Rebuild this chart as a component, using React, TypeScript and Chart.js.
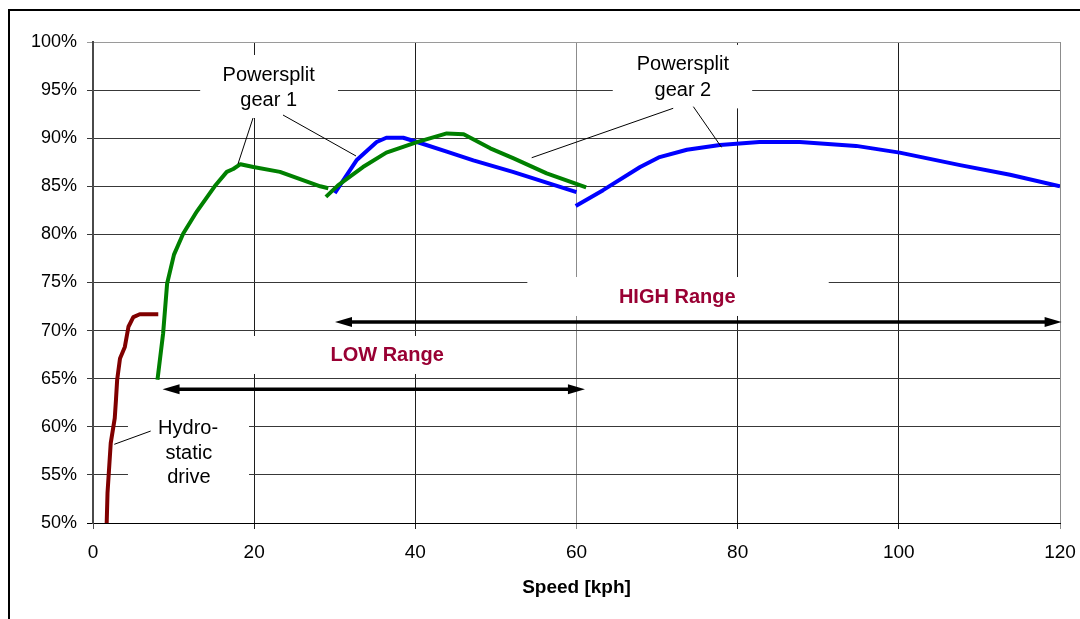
import React, { useEffect, useRef } from 'react';
import { Chart, registerables } from 'chart.js';

Chart.register(...registerables);

// ---- Data (speed in kph, efficiency in %) ----
const hydroSpeed = [1.7, 1.8, 2.2, 2.7, 2.85, 3.0, 3.35, 3.95, 4.4, 5.0, 5.8, 8.1];
const hydroEff = [50, 53.1, 58.3, 60.9, 62.8, 64.9, 67.1, 68.3, 70.4, 71.4, 71.7, 71.7];

const lowGear1Speed = [8.0, 8.7, 9.2, 10.05, 11.2, 12.9, 15.1, 16.6, 17.4, 18.3, 19.9, 23.2, 28.2, 29.2];
const lowGear1Eff = [64.9, 69.7, 74.9, 77.9, 80.1, 82.4, 85.0, 86.5, 86.8, 87.3, 87.0, 86.5, 85.0, 84.8];

const lowGear2Speed = [28.9, 30.4, 33.5, 36.4, 40.2, 43.9, 46.0, 49.3, 52.2, 56.3, 61.2];
const lowGear2Eff = [83.9, 85.1, 87.0, 88.5, 89.6, 90.5, 90.4, 88.95, 87.9, 86.35, 84.9];

const highGear1Speed = [30.0, 32.7, 35.2, 36.4, 38.5, 40.6, 43.9, 47.2, 52.1, 60.0];
const highGear1Eff = [84.3, 87.7, 89.6, 90.05, 90.05, 89.5, 88.6, 87.7, 86.5, 84.4];

const highGear2Speed = [59.9, 63.3, 67.9, 70.2, 73.7, 77.8, 82.7, 87.7, 94.7, 100.1, 107.6, 113.8, 120];
const highGear2Eff = [82.95, 84.6, 87.0, 88.0, 88.8, 89.3, 89.6, 89.6, 89.2, 88.5, 87.2, 86.2, 85.0];

const xMin = 0;
const xMax = 120;
const xStep = 20;
const yMin = 50;
const yMax = 100;
const yStep = 5;

// ---- Annotations (in data units) ----
const labelLines = [
  { text: 'Powersplit', x: 21.8, y: 96.57 },
  { text: 'gear 1', x: 21.8, y: 93.94 },
  { text: 'Powersplit', x: 73.2, y: 97.66 },
  { text: 'gear 2', x: 73.2, y: 94.98 },
  { text: 'Hydro-', x: 11.8, y: 59.79 },
  { text: 'static', x: 11.9, y: 57.2 },
  { text: 'drive', x: 11.9, y: 54.68 },
];

const rangeLabels = [
  { text: 'HIGH Range', x: 72.5, y: 73.41 },
  { text: 'LOW Range', x: 36.5, y: 67.38 },
];

const labelBoxes = [
  { x0: 13.3, x1: 30.4, y0: 92.1, y1: 98.65 },
  { x0: 64.5, x1: 81.8, y0: 93.1, y1: 99.7 },
  { x0: 53.9, x1: 91.3, y0: 71.52, y1: 75.57 },
  { x0: 15.0, x1: 55.0, y0: 65.49, y1: 69.44 },
  { x0: 4.34, x1: 19.36, y0: 51.9, y1: 63.3 },
];

const leaderLines = [
  { x0: 19.86, y0: 92.1, x1: 17.99, y1: 87.32 },
  { x0: 23.58, y0: 92.41, x1: 32.64, y1: 88.15 },
  { x0: 72.0, y0: 93.11, x1: 54.44, y1: 87.97 },
  { x0: 74.5, y0: 93.28, x1: 78.0, y1: 89.05 },
  { x0: 7.16, y0: 59.56, x1: 2.64, y1: 58.18 },
];

const rangeArrows = [
  { from: 30.03, to: 120.2, y: 70.9 },
  { from: 8.63, to: 61.05, y: 63.9 },
];

const FONT = '"Liberation Sans", Arial, Helvetica, sans-serif';

function pts(xs: number[], ys: number[]) {
  return xs.map((x, i) => ({ x, y: ys[i] }));
}

const annotationPlugin = {
  id: 'annotations',
  beforeDatasetsDraw(chart: any) {
    const { ctx, scales } = chart;
    const xs = scales.x;
    const ys = scales.y;
    ctx.save();
    ctx.fillStyle = '#ffffff';
    labelBoxes.forEach((b) => {
      const l = xs.getPixelForValue(b.x0);
      const r = xs.getPixelForValue(b.x1);
      const t = ys.getPixelForValue(b.y1);
      const bt = ys.getPixelForValue(b.y0);
      ctx.fillRect(l, t, r - l, bt - t);
    });
    ctx.restore();
  },
  afterDatasetsDraw(chart: any) {
    const { ctx, scales } = chart;
    const xs = scales.x;
    const ys = scales.y;
    ctx.save();
    // leader lines
    ctx.strokeStyle = '#000';
    ctx.lineWidth = 1;
    leaderLines.forEach((l) => {
      ctx.beginPath();
      ctx.moveTo(xs.getPixelForValue(l.x0), ys.getPixelForValue(l.y0));
      ctx.lineTo(xs.getPixelForValue(l.x1), ys.getPixelForValue(l.y1));
      ctx.stroke();
    });
    // arrows
    rangeArrows.forEach((a) => {
      const x0 = xs.getPixelForValue(a.from);
      const x1 = xs.getPixelForValue(a.to);
      const y = ys.getPixelForValue(a.y);
      const head = 17;
      const hw = 5;
      ctx.strokeStyle = '#000';
      ctx.lineWidth = 3.5;
      ctx.beginPath();
      ctx.moveTo(x0 + head - 2, y);
      ctx.lineTo(x1 - head + 2, y);
      ctx.stroke();
      ctx.fillStyle = '#000';
      ctx.beginPath();
      ctx.moveTo(x0, y);
      ctx.lineTo(x0 + head, y - hw);
      ctx.lineTo(x0 + head, y + hw);
      ctx.closePath();
      ctx.fill();
      ctx.beginPath();
      ctx.moveTo(x1, y);
      ctx.lineTo(x1 - head, y - hw);
      ctx.lineTo(x1 - head, y + hw);
      ctx.closePath();
      ctx.fill();
    });
    // texts
    ctx.textAlign = 'center';
    ctx.textBaseline = 'middle';
    ctx.fillStyle = '#000';
    ctx.font = `20px ${FONT}`;
    labelLines.forEach((t) => {
      ctx.fillText(t.text, xs.getPixelForValue(t.x), ys.getPixelForValue(t.y));
    });
    ctx.fillStyle = '#990033';
    ctx.font = `bold 20px ${FONT}`;
    rangeLabels.forEach((t) => {
      ctx.fillText(t.text, xs.getPixelForValue(t.x), ys.getPixelForValue(t.y));
    });
    ctx.restore();
  },
  afterDraw(chart: any) {
    const { ctx } = chart;
    ctx.save();
    ctx.strokeStyle = '#000';
    ctx.lineWidth = 2;
    ctx.strokeRect(9, 10, 1400, 1400);
    ctx.restore();
  },
};

function lineDs(label: string, data: any[], color: string) {
  return {
    label,
    data,
    borderColor: color,
    backgroundColor: color,
    borderWidth: 4,
    pointRadius: 0,
    tension: 0,
    fill: false,
    borderJoinStyle: 'round',
    borderCapStyle: 'butt',
  };
}

export default function App() {
  const ref = useRef<HTMLCanvasElement | null>(null);

  useEffect(() => {
    if (!ref.current) return;
    Chart.defaults.font.family = FONT;
    const chart = new Chart(ref.current, {
      type: 'line',
      data: {
        datasets: [
          lineDs('Hydrostatic drive', pts(hydroSpeed, hydroEff), '#800000'),
          lineDs('LOW Range gear 1', pts(lowGear1Speed, lowGear1Eff), '#008000'),
          lineDs('LOW Range gear 2', pts(lowGear2Speed, lowGear2Eff), '#008000'),
          lineDs('HIGH Range gear 1', pts(highGear1Speed, highGear1Eff), '#0000ff'),
          lineDs('HIGH Range gear 2', pts(highGear2Speed, highGear2Eff), '#0000ff'),
        ] as any,
      },
      options: {
        animation: false,
        responsive: false,
        devicePixelRatio: 1,
        layout: { padding: { left: 0, right: 20, top: 42, bottom: 0 } },
        plugins: {
          legend: { display: false },
          tooltip: { enabled: false },
        },
        scales: {
          x: {
            type: 'linear',
            min: xMin,
            max: xMax,
            ticks: {
              stepSize: xStep,
              color: '#000',
              font: { size: 19, family: FONT },
              padding: 12,
              maxRotation: 0,
            },
            grid: {
              color: (c: any) => {
                const v = c.tick ? c.tick.value : null;
                if (v === 60 || v === 120) return '#8c8c8c';
                if (v === 0) return '#4a4a4a';
                return '#1e1e1e';
              },
              tickLength: 6,
              lineWidth: 1,
            },
            border: { color: '#000', width: 1 },
            title: {
              display: true,
              text: 'Speed [kph]',
              color: '#000',
              font: { size: 19, weight: 'bold', family: FONT },
              padding: { top: 0, bottom: 20 },
            },
            afterFit: (s: any) => {
              s.height = 96;
              s.paddingLeft = 0;
              s.paddingRight = 0;
            },
          },
          y: {
            type: 'linear',
            min: yMin,
            max: yMax,
            ticks: {
              stepSize: yStep,
              color: '#000',
              font: { size: 18, family: FONT },
              padding: 10,
              callback: (v: any) => `${v}%`,
            },
            grid: {
              color: (c: any) => {
                const v = c.tick ? c.tick.value : null;
                if (v === 100) return '#9a9a9a';
                if (v === 50) return '#000';
                return '#383838';
              },
              tickLength: 6,
              lineWidth: 1,
            },
            border: { color: '#4a4a4a', width: 2 },
            afterFit: (s: any) => {
              s.width = 93;
              s.paddingTop = 0;
              s.paddingBottom = 0;
            },
          },
        },
      } as any,
      plugins: [annotationPlugin],
    });
    return () => chart.destroy();
  }, []);

  return (
    <div style={{ position: 'fixed', left: 0, top: 0, width: 1080, height: 619, background: '#fff', overflow: 'hidden' }}>
      <canvas ref={ref} width={1080} height={619} style={{ display: 'block', width: 1080, height: 619 }} />
    </div>
  );
}
